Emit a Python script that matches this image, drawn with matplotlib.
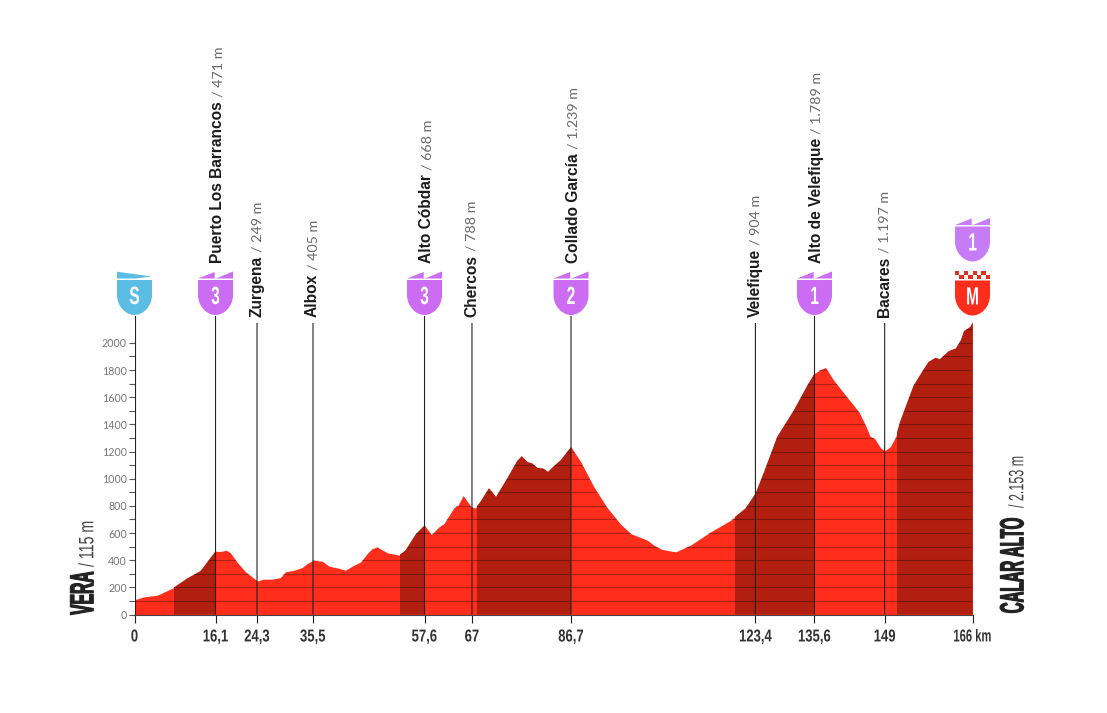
import matplotlib
matplotlib.use('Agg')
import matplotlib.pyplot as plt
import numpy as np
from matplotlib.patches import PathPatch, Polygon, Rectangle
from matplotlib.path import Path
from matplotlib.patheffects import AbstractPathEffect
from matplotlib.transforms import Affine2D

# perfil de la etapa
km = [0, 1.85, 4.5, 7.8, 10.4, 13.1, 14.7, 16.05, 17.0, 18.2, 19, 20.3, 22, 23.3, 24.3,
      25.6, 27.3, 28.9, 29.9, 31.6, 33.2, 34.2, 35.4, 37.2, 38.5, 40.2, 41.8, 43.1, 44.8,
      46.1, 47.1, 48.1, 50.1, 52.4, 53.7, 55.7, 57.45, 58.8, 60.3, 61.3, 63.3, 64.1, 65.1,
      66.6, 67.5, 68.5, 70.2, 71.6, 73.8, 75.8, 76.7, 77.8, 78.8, 79.8, 81, 81.9, 83.1,
      84.4, 86.47, 88.4, 91, 93.6, 96.3, 98.3, 101.6, 102.9, 104.5, 107.2, 110.1, 114.1,
      118.1, 121, 123, 124.7, 127.3, 130.6, 133.3, 134.7, 135.9, 136.9, 138.5, 141.2,
      143.5, 144.8, 145.7, 146.6, 147.8, 148.6, 149.7, 150.8, 151.6, 153, 154.3, 156,
      157.3, 158.7, 159.5, 161.3, 162.7, 163.7, 164.3, 165.6, 166]
elev = [108, 130, 142, 199, 265, 321, 400, 466, 464, 473, 454, 387, 314, 277, 247,
        260, 260, 272, 314, 326, 346, 375, 400, 392, 356, 343, 326, 356, 387,
        449, 486, 496, 454, 437, 473, 591, 657, 589, 645, 670, 788, 805, 876,
        797, 783, 829, 930, 866, 1001, 1131, 1166, 1124, 1112, 1080, 1075, 1050, 1094,
        1136, 1234, 1124, 940, 788, 665, 596, 547, 510, 479, 461, 510, 608,
        694, 780, 890, 1050, 1308, 1504, 1688, 1775, 1804, 1819, 1725, 1598,
        1492, 1394, 1313, 1296, 1227, 1205, 1236, 1309, 1415, 1555, 1684, 1787,
        1861, 1891, 1879, 1940, 1960, 2021, 2087, 2119, 2153]

# tramos de subida
climb_start = [7.8, 52.5, 67.8, 118.9, 151]
climb_end = [16.05, 57.45, 86.47, 134.7, 166]

# puntos de paso
point_km = [16.05, 24.27, 35.36, 57.45, 66.85, 86.47, 123.0, 134.7, 148.6]
point_name = ['Puerto Los Barrancos', 'Zurgena', 'Albox', 'Alto Cóbdar', 'Chercos',
              'Collado García', 'Velefique', 'Alto de Velefique', 'Bacares']
point_alt = ['/ 471 m', '/ 249 m', '/ 405 m', '/ 668 m', '/ 788 m',
             '/ 1.239 m', '/ 904 m', '/ 1.789 m', '/ 1.197 m']
point_cat = ['3', None, None, '3', None, '2', None, '1', None]

km_ticks = [0] + point_km + [166]
km_labels = ['0', '16,1', '24,3', '35,5', '57,6', '67', '86,7', '123,4', '135,6', '149', '166 km']
elev_ticks = list(range(0, 2100, 100))
elev_labels = [str(v) if v % 200 == 0 else '' for v in elev_ticks]

RED = '#FF2D1C'
DARK = '#B01F10'
PURPLE = '#CB6CF3'
PURPLE2 = '#C77CF7'
BLUE = '#5BBDE4'
NARROW = ['Liberation Sans Narrow', 'Liberation Sans', 'DejaVu Sans']

W, H = 1107, 713
X0, X1 = 134.5, 972.5
Y0 = 614.5
PX_M = 0.1358
YMAX = 2200


class Squeeze(AbstractPathEffect):
    # estrecha el texto a lo largo de su linea, la fuente condensada no esta instalada
    def __init__(self, sx, anchor='center', stroke=0):
        super().__init__()
        self.sx = sx
        self.anchor = anchor
        self.stroke = stroke

    def draw_path(self, renderer, gc, tpath, affine, rgbFace=None):
        ext = tpath.get_extents()
        c = (ext.x0 + ext.x1) / 2 if self.anchor == 'center' else ext.x0
        squeeze = Affine2D().translate(-c, 0).scale(self.sx, 1).translate(c, 0)
        gc0 = renderer.new_gc()
        gc0.copy_properties(gc)
        if self.stroke:
            gc0.set_foreground(rgbFace)
            gc0.set_linewidth(self.stroke)
        renderer.draw_path(gc0, tpath, squeeze + affine, rgbFace)
        gc0.restore()


fig = plt.figure(figsize=(W / 100, H / 100), dpi=100)
ax = fig.add_axes([X0 / W, (H - Y0) / H, (X1 - X0) / W, YMAX * PX_M / H])
ax.set_xlim(0, 166)
ax.set_ylim(0, YMAX)
ax.patch.set_visible(False)
for side in ['top', 'right', 'left']:
    ax.spines[side].set_visible(False)
ax.spines['bottom'].set_color('#444444')
ax.spines['bottom'].set_linewidth(0.8)

profile = ax.fill_between(km, 0, elev, color=RED, linewidth=0, zorder=1)
clip = profile.get_paths()[0]

for a, b in zip(climb_start, climb_end):
    span = ax.axvspan(a, b, color=DARK, linewidth=0, zorder=2)
    span.set_clip_path(clip, profile.get_transform())

grid = ax.hlines(elev_ticks[1:] + [2100], 0, 166, color='black', alpha=0.3, linewidth=0.75, zorder=3)
grid.set_clip_path(clip, profile.get_transform())

ax.set_xticks(km_ticks, km_labels)
ax.set_yticks(elev_ticks, elev_labels)
ax.tick_params(axis='x', length=5.76, width=0.8, color='#222222', pad=5, labelcolor='#333333')
ax.tick_params(axis='y', length=4.3, width=0.8, color='#555555', pad=1.2, labelcolor='#777777')
for t in ax.get_xticklabels():
    t.set_family(NARROW)
    t.set_weight('bold')
    t.set_fontsize(12.4)
    t.set_path_effects([Squeeze(0.65 if 'km' in t.get_text() else 0.76)])
for t in ax.get_yticklabels():
    t.set_family(['Lato', 'DejaVu Sans'])
    t.set_fontsize(7.7)

# lineas verticales de los puntos de paso
SHIELD_TOP = (Y0 - 315) / PX_M
LABEL_TOP = (Y0 - 323) / PX_M
ax.vlines([0], 0, SHIELD_TOP, color='#222222', linewidth=0.8, zorder=4)
ax.vlines([166], 0, elev[-1], color='#222222', linewidth=0.8, zorder=4)
for k, cat in zip(point_km, point_cat):
    top = SHIELD_TOP if cat else LABEL_TOP
    line = ax.vlines([k], 0, top, color='#222222', linewidth=0.8, zorder=4)
    line.set_snap(False)

# capa en pixeles para escudos y rotulos
ov = fig.add_axes([0, 0, 1, 1], zorder=5)
ov.set_xlim(0, W)
ov.set_ylim(H, 0)
ov.axis('off')


def km_px(k):
    return X0 + k * (X1 - X0) / 166


def shield(cx, top, color, letter):
    r = 17.5
    verts = [(-r, 0), (r, 0), (r, 15), (r, 26), (9, 35), (0, 35), (-9, 35), (-r, 26), (-r, 15), (-r, 0)]
    codes = [Path.MOVETO, Path.LINETO, Path.LINETO, Path.CURVE4, Path.CURVE4, Path.CURVE4,
             Path.CURVE4, Path.CURVE4, Path.CURVE4, Path.CLOSEPOLY]
    verts = [(cx + x, top + y) for x, y in verts]
    ov.add_patch(PathPatch(Path(verts, codes), facecolor=color, edgecolor='none'))
    ov.text(cx, top + 17, letter, color='white', ha='center', va='center', family=NARROW,
            weight='bold', fontsize=18, path_effects=[Squeeze(0.62)])


def teeth(cx, top, color):
    ov.add_patch(Polygon([(cx - 17.5, top - 1.5), (cx - 0.8, top - 8), (cx - 0.8, top - 1.5)],
                         facecolor=color, edgecolor='none'))
    ov.add_patch(Polygon([(cx + 0.5, top - 1.5), (cx + 17.5, top - 8.5), (cx + 17.5, top - 1.5)],
                         facecolor=color, edgecolor='none'))


# salida
shield(km_px(0), 280, BLUE, 'S')
ov.add_patch(Polygon([(km_px(0) - 17.5, 271.7), (km_px(0) + 17, 276.5), (km_px(0) + 1, 278.5), (km_px(0) - 17.5, 278.5)],
                     facecolor=BLUE, edgecolor='none'))

# meta
fx = km_px(166)
shield(fx, 280.5, RED, 'M')
for col in range(8):
    for row in range(2):
        if (col + row) % 2 == 0:
            ov.add_patch(Rectangle((fx - 17.5 + col * 4.4, 271 + row * 4), 4.4, 4, facecolor='#E0301E', edgecolor='none'))
shield(fx, 226.5, PURPLE2, '1')
teeth(fx, 226.5, PURPLE2)

renderer = fig.canvas.get_renderer()
for k, name, alt, cat in zip(point_km, point_name, point_alt, point_cat):
    cx = km_px(k)
    if cat:
        shield(cx, 280, PURPLE, cat)
        teeth(cx, 280, PURPLE)
    bottom = 263 if cat else 317
    base = cx + (6.5 if cat else 4)
    t = ov.text(base, bottom, name, rotation=90, rotation_mode='anchor', ha='left', va='baseline',
                family=['Liberation Sans', 'DejaVu Sans'], weight='bold', fontsize=11.2, color='#1C1C1C')
    top = t.get_window_extent(renderer).y1
    ov.text(base, H - top - 4, alt, rotation=90, rotation_mode='anchor', ha='left', va='baseline',
            family=['Lato', 'DejaVu Sans'], fontsize=10.3, color='#6A6A6A')

# nombres de salida y meta
ov.text(93.3, 615, 'VERA', rotation=90, rotation_mode='anchor', ha='left', va='baseline', family=NARROW,
        weight='bold', fontsize=24, color='#222222', path_effects=[Squeeze(0.47, 'left', 0.8)])
ov.text(93.3, 567, '/ 115 m', rotation=90, rotation_mode='anchor', ha='left', va='baseline', family=NARROW,
        fontsize=15, color='#444444', path_effects=[Squeeze(0.68, 'left')])
ov.text(1023.3, 614, 'CALAR ALTO', rotation=90, rotation_mode='anchor', ha='left', va='baseline', family=NARROW,
        weight='bold', fontsize=24, color='#222222', path_effects=[Squeeze(0.45, 'left', 0.8)])
ov.text(1023.3, 508, '/ 2.153 m', rotation=90, rotation_mode='anchor', ha='left', va='baseline', family=NARROW,
        fontsize=15, color='#444444', path_effects=[Squeeze(0.6, 'left')])

fig.savefig('out.png', dpi=100)
